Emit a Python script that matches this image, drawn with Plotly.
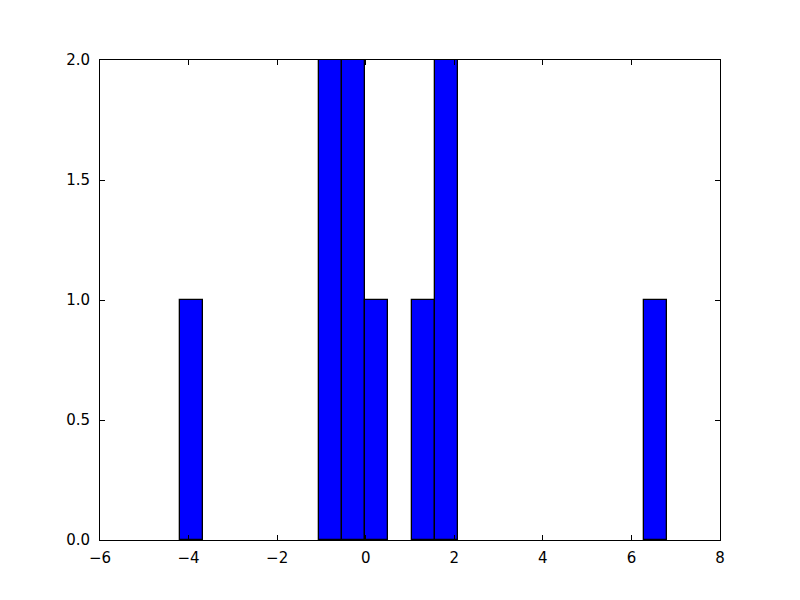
import plotly.graph_objects as go

# Histogram data: 21 equal bins from -4.2 to 6.8
bin_start = -4.2
bin_end = 6.8
counts = [1, 0, 0, 0, 0, 0, 2, 2, 1, 0, 1, 2, 0, 0, 0, 0, 0, 0, 0, 0, 1]
x_ticks = [-6, -4, -2, 0, 2, 4, 6, 8]
y_ticks = [0.0, 0.5, 1.0, 1.5, 2.0]

n = len(counts)
w = (bin_end - bin_start) / n
idx = [i for i in range(n) if counts[i] > 0]

fig = go.Figure(go.Bar(
    x=[bin_start + (i + 0.5) * w for i in idx],
    y=[counts[i] for i in idx],
    width=[w] * len(idx),
    marker=dict(color="#0000ff", line=dict(color="black", width=1.3)),
))

axis_common = dict(
    showgrid=False, zeroline=False, showline=True, linecolor="black", linewidth=1,
    mirror="ticks", ticks="inside", ticklen=5, tickcolor="black", tickwidth=1,
    tickfont=dict(family="DejaVu Sans", size=15, color="black"),
)
fig.update_xaxes(range=[-6, 8], tickvals=x_ticks, ticktext=[("\u2212" + str(-v)) if v < 0 else str(v) for v in x_ticks], ticklabelstandoff=4, **axis_common)
fig.update_yaxes(range=[0, 2], tickvals=y_ticks, tickformat=".1f", ticklabelstandoff=6, **axis_common)

fig.update_layout(
    width=800, height=600,
    margin=dict(l=92, r=88, t=52, b=68),
    plot_bgcolor="white", paper_bgcolor="white",
    showlegend=False, bargap=0,
)
fig.write_html("out.html")
